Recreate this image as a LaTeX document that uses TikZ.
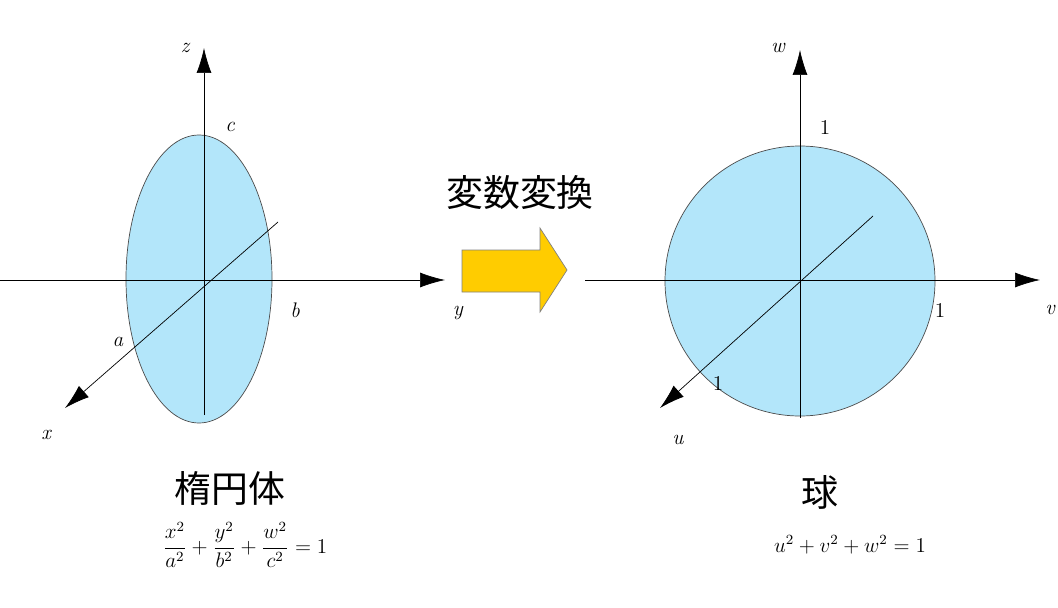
\documentclass[tikz,border=0pt]{standalone}
\usepackage{fontspec}
\newfontfamily\cjk{Noto Sans CJK JP}
\usetikzlibrary{arrows.meta}
\colorlet{colorBody}{cyan!30}
\colorlet{colorShift}{orange!40!yellow}
\tikzset{
   axis/.style={-{Latex[length=5mm,width=3mm]},thin},
   lab/.style={font=\fontsize{12}{14}\selectfont\itshape},
   num/.style={font=\fontsize{12}{14}\selectfont},
   title/.style={font=\cjk\fontsize{21}{25}\selectfont},
   formula/.style={font=\fontsize{12}{14}\selectfont},
}
\begin{document}
\begin{tikzpicture}[x=0.02cm,y=-0.02cm]
        \useasboundingbox (0,0) rectangle (1058,608);

        % ellipsoid
        \draw[fill=colorBody,draw=black!70] (199,279) ellipse [x radius=73,y radius=144];
        \coordinate (z1s) at (204,415); \coordinate (z1) at (204,48);
        \coordinate (y1s) at (0,280);   \coordinate (y1) at (445,280);
        \coordinate (x1s) at (278,222); \coordinate (x1) at (65,408);
        \draw[axis] (z1s) -- (z1);
        \draw[axis] (y1s) -- (y1);
        \draw[axis] (x1s) -- (x1);
        \node[lab] (lz) at (185,48) {z};
        \node[lab] (lc) at (230,127) {c};
        \node[lab] (lb) at (295,310) {b};
        \node[lab] (la) at (118,342) {a};
        \node[lab] (lx) at (46,435) {x};
        \node[lab] (ly) at (458,313) {y};

        % sphere
        \draw[fill=colorBody,draw=black!70] (800,281) circle [radius=135];
        \coordinate (w2s) at (800,418); \coordinate (w2) at (800,50);
        \coordinate (v2s) at (585,280); \coordinate (v2) at (1040,280);
        \coordinate (u2s) at (873,216); \coordinate (u2) at (660,408);
        \draw[axis] (w2s) -- (w2);
        \draw[axis] (v2s) -- (v2);
        \draw[axis] (u2s) -- (u2);
        \node[lab] (lw) at (778,48) {w};
        \node[num] (l1w) at (825,127) {1};
        \node[num] (l1v) at (940,310) {1};
        \node[lab] (lv) at (1050,310) {v};
        \node[num] (l1u) at (718,383) {1};
        \node[lab] (lu) at (678,440) {u};

        % transform arrow
        \node[title] (trans) at (520,193) {変数変換};
        \draw[draw=black!50,fill=colorShift] (462,250) -- (540,250) -- (540,228) -- (567,270)
              -- (540,312) -- (540,292) -- (462,292) -- cycle;

        \node[title] (tellip) at (230,488) {楕円体};
        \node[formula] (fellip) at (245,545) {$\displaystyle\frac{x^2}{a^2}+\frac{y^2}{b^2}+\frac{w^2}{c^2}=1$};
        \node[title] (tsph) at (820,492) {球};
        \node[formula] (fsph) at (850,545) {$u^2+v^2+w^2=1$};

\end{tikzpicture}
\end{document}
